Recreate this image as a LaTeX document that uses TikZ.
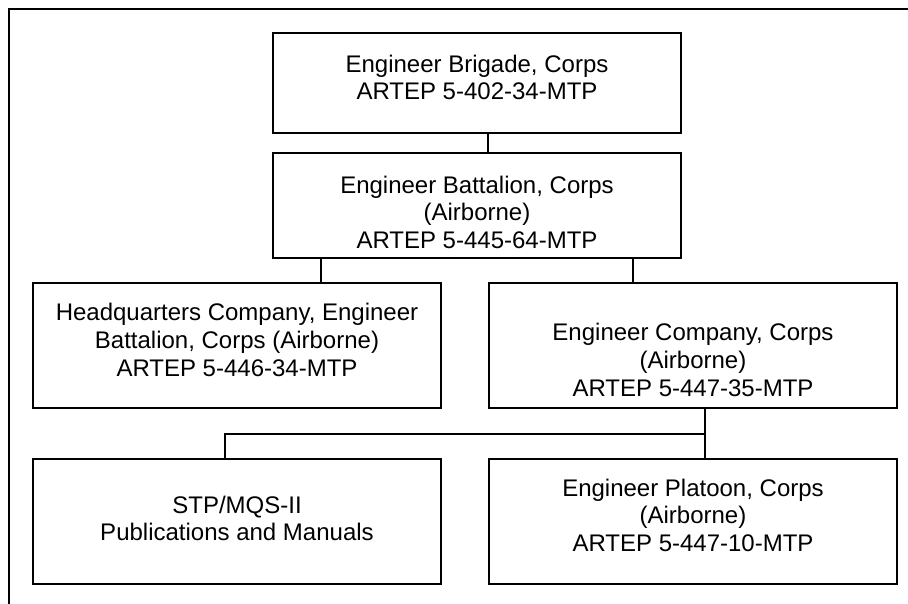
\documentclass[tikz,border=0pt]{standalone}
\usepackage{fontspec}
\setmainfont{Liberation Sans}
\begin{document}
\begin{tikzpicture}[x=1pt,y=-1pt,line width=2pt,
 unit/.style={draw,inner sep=0pt,minimum width=408pt},
 txt/.style={anchor=north,inner sep=0pt,align=center,font=\fontsize{24}{27.6}\selectfont}]
 \useasboundingbox (0,0) rectangle (908,604);
 \draw (908,9) -- (9,9) -- (9,604);
 % boxes
 \node[unit,minimum height=100pt] (brigade) at (477,83) {};
 \node[unit,minimum height=105pt] (battalion) at (477,205.5) {};
 \node[unit,minimum height=125pt] (hqco) at (237,345.5) {};
 \node[unit,minimum height=125pt] (engco) at (693,345.5) {};
 \node[unit,minimum height=125pt] (stp) at (237,521.5) {};
 \node[unit,minimum height=125pt] (platoon) at (693,521.5) {};
 % texts
 \node[txt] (brigadetxt) at (477,54) {Engineer Brigade, Corps\\ARTEP 5-402-34-MTP};
 \node[txt] (battaliontxt) at (477,175) {Engineer Battalion, Corps\\(Airborne)\\ARTEP 5-445-64-MTP};
 \node[txt] (hqcotxt) at (237,302.5) {Headquarters Company, Engineer\\Battalion, Corps (Airborne)\\ARTEP 5-446-34-MTP};
 \node[txt] (engcotxt) at (693,322.5) {Engineer Company, Corps\\(Airborne)\\ARTEP 5-447-35-MTP};
 \node[txt] (stptxt) at (237,495) {STP/MQS-II\\Publications and Manuals};
 \node[txt] (platoontxt) at (693,478) {Engineer Platoon, Corps\\(Airborne)\\ARTEP 5-447-10-MTP};
 % lines
 \draw (brigade.south -| engco.west) -- (battalion.north -| engco.west);
 \draw ([xshift=84pt]hqco.north) -- ([xshift=84pt]hqco.north |- battalion.south);
 \draw ([xshift=-60pt]engco.north) -- ([xshift=-60pt]engco.north |- battalion.south);
 \draw ([xshift=12pt]engco.south) -- coordinate[midway] (split) ([xshift=12pt]platoon.north);
 \draw ([xshift=-12pt]stp.north) |- (split);
\end{tikzpicture}
\end{document}
